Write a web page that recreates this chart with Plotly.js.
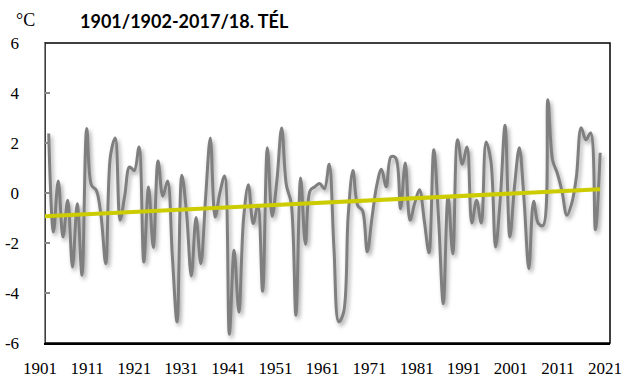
<!DOCTYPE html>
<html>
<head>
<meta charset="utf-8">
<script src="https://cdn.plot.ly/plotly-3.0.1.min.js"></script>
<style>
html,body{margin:0;padding:0;background:#fff;}
#chart{width:640px;height:391px;}
.scatterlayer .trace:nth-child(1) .js-line{filter:drop-shadow(2px 3px 2px rgba(0,0,0,0.35));}
</style>
</head>
<body>
<div id="chart"></div>
<script>
// Winter mean temperature (°C), winters 1901/1902 ... 2017/2018 (labelled by the January year)
const years = [];
for (let y = 1902; y <= 2018; y++) years.push(y);

const temps = [
  // 1902-1911
  2.38, -1.56, 0.48, -1.76, -0.29, -2.96, -0.43, -3.29, 2.58, 0.31,
  // 1912-1921
  0.11, -0.9, -2.83, 1.5, 2.2, -1.09, -0.1, 1.04, 0.9, 1.84,
  // 1922-1931
  -2.76, 0.24, -2.18, 1.28, -0.13, 0.48, -2.5, -5.16, 0.71, -0.8,
  // 1932-1941
  -3.32, -0.98, -2.83, -0.2, 2.2, -0.96, 0.0, 0.68, -5.65, -2.29,
  // 1942-1951
  -4.76, -1.0, 0.33, -1.22, -0.49, -3.93, 1.81, -0.93, 0.5, 2.6,
  // 1952-1961
  0.31, -0.4, -4.89, 0.6, -2.05, 0.1, 0.25, 0.38, 0.17, 1.15,
  // 1962-1971
  -2.2, -5.15, -4.8, -0.9, 0.9, -0.5, -0.7, -2.35, -1.0, 0.3,
  // 1972-1981
  0.95, 0.25, 1.45, 1.4, -0.63, 1.2, -1.09, -0.4, 0.13, -1.1,
  // 1982-1991
  -2.39, 1.73, -1.0, -4.43, -0.13, -2.43, 2.13, 1.15, 1.84, -1.2,
  // 1992-2001
  -0.29, -1.2, 2.04, 1.3, -2.16, -0.2, 2.71, -1.76, 0.3, 1.81,
  // 2002-2011
  -0.3, -3.03, -0.33, -1.22, -1.3, 3.73, 1.31, 0.78, 0.04, -0.89,
  // 2012-2018
  -0.43, 0.64, 2.61, 2.13, 2.4, -1.47, 1.61
];

// Linear trend end points
const trendYears = [1901, 2018];
const trendVals = [-0.93, 0.15];

// Axis tick labels
const xTickYears = [1901, 1911, 1921, 1931, 1941, 1951, 1961, 1971, 1981, 1991, 2001, 2011, 2021];
const yTicks = [-6, -4, -2, 0, 2, 4, 6];

const titleText = '1901/1902-2017/18. TÉL';
const unitText = '°C';

const serif = 'Liberation Serif, Times New Roman, serif';

const traces = [
  {x: [], y: [], xaxis: 'x', yaxis: 'y', type: 'scatter', mode: 'lines', showlegend: false, hoverinfo: 'skip'},
  {
    x: years, y: temps, xaxis: 'x2', yaxis: 'y',
    type: 'scatter', mode: 'lines',
    line: {color: '#7f7f7f', width: 3, shape: 'spline', smoothing: 1},
    showlegend: false, hoverinfo: 'skip'
  },
  {
    x: trendYears, y: trendVals, xaxis: 'x2', yaxis: 'y',
    type: 'scatter', mode: 'lines',
    line: {color: '#cccc00', width: 4},
    showlegend: false, hoverinfo: 'skip'
  }
];

const layout = {
  width: 640, height: 391,
  margin: {l: 45, r: 30, t: 43, b: 48, pad: 0},
  paper_bgcolor: '#ffffff', plot_bgcolor: '#ffffff',
  showlegend: false,
  title: {
    text: '<b>' + titleText + '</b>',
    font: {family: 'Lato, Carlito, sans-serif', size: 18, color: '#000'},
    x: 80 / 640, xanchor: 'left', xref: 'container',
    y: 1 - 22 / 391, yanchor: 'middle', yref: 'container'
  },
  xaxis: {
    range: [1901, 2021],
    tickmode: 'array', tickvals: xTickYears, ticktext: xTickYears.map(String),
    ticks: '', showgrid: false, zeroline: false,
    showline: true, linecolor: '#000', linewidth: 1.5,
    tickfont: {family: serif, size: 17, color: '#000'},
    ticklabelshift: -5,
    ticklabelstandoff: 9,
    fixedrange: true
  },
  xaxis2: {
    overlaying: 'x', anchor: 'y',
    range: [1901.22, 2020.07],
    visible: false, showgrid: false, zeroline: false,
    fixedrange: true
  },
  yaxis: {
    range: [-6, 6],
    tickmode: 'array', tickvals: yTicks, ticktext: yTicks.map(String),
    ticks: 'inside', ticklen: 5, tickcolor: '#888', tickwidth: 1.5,
    showgrid: false, zeroline: false,
    showline: true, linecolor: '#888', linewidth: 1.5,
    tickfont: {family: serif, size: 17, color: '#000'},
    ticklabelstandoff: 21,
    fixedrange: true
  },
  shapes: [
    {type: 'rect', xref: 'paper', yref: 'paper', x0: 0, x1: 1, y0: 0, y1: 1,
     line: {color: '#000', width: 1.5}, layer: 'below'}
  ],
  annotations: [
    {text: unitText, xref: 'paper', yref: 'paper', x: -0.035, y: 1.077,
     xanchor: 'center', yanchor: 'middle', showarrow: false,
     font: {family: serif, size: 18, color: '#000'}}
  ]
};

Plotly.newPlot('chart', traces, layout, {staticPlot: true, displayModeBar: false});
</script>
</body>
</html>
